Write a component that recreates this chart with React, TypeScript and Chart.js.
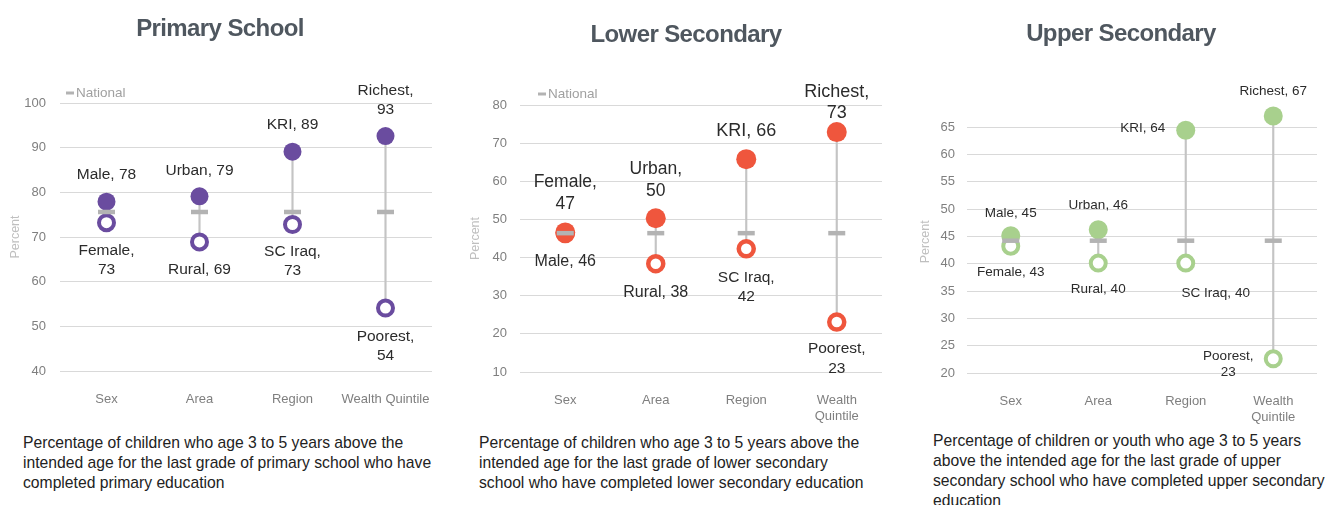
import React, { useEffect, useRef } from 'react';
import { Chart, registerables } from 'chart.js';

Chart.register(...registerables);

const FONT = '"Liberation Sans", Arial, sans-serif';

// ---------- DATA ----------
const primaryCategories: (string | string[])[] = ['Sex', 'Area', 'Region', 'Wealth Quintile'];
const secondaryCategories: (string | string[])[] = ['Sex', 'Area', 'Region', ['Wealth', 'Quintile']];

const primaryTicks = [40, 50, 60, 70, 80, 90, 100];
const primaryHighNames = ['Male', 'Urban', 'KRI', 'Richest'];
const primaryHighValues = [77.9, 79.1, 89.1, 92.6];
const primaryLowNames = ['Female', 'Rural', 'SC Iraq', 'Poorest'];
const primaryLowValues = [73.2, 68.9, 72.8, 54.1];
const primaryNational = [75.6, 75.6, 75.6, 75.6];

const lowerTicks = [10, 20, 30, 40, 50, 60, 70, 80];
const lowerHighNames = ['Female', 'Urban', 'KRI', 'Richest'];
const lowerHighValues = [46.6, 50.3, 65.8, 72.9];
const lowerLowNames = ['Male', 'Rural', 'SC Iraq', 'Poorest'];
const lowerLowValues = [46.3, 38.4, 42.3, 23.1];
const lowerNational = [46.4, 46.4, 46.4, 46.4];

const upperTicks = [20, 25, 30, 35, 40, 45, 50, 55, 60, 65];
const upperHighNames = ['Male', 'Urban', 'KRI', 'Richest'];
const upperHighValues = [45.1, 46.2, 64.4, 67.0];
const upperLowNames = ['Female', 'Rural', 'SC Iraq', 'Poorest'];
const upperLowValues = [43.2, 40.1, 40.1, 22.6];
const upperNational = [44.2, 44.2, 44.2, 44.2];

const primaryTitle = 'Primary School';
const lowerTitle = 'Lower Secondary';
const upperTitle = 'Upper Secondary';

const primaryCaption = [
  'Percentage of children who age 3 to 5 years above the',
  'intended age for the last grade of primary school who have',
  'completed primary education',
];
const lowerCaption = [
  'Percentage of children who age 3 to 5 years above the',
  'intended age for the last grade of lower secondary',
  'school who have completed lower secondary education',
];
const upperCaption = [
  'Percentage of children or youth who age 3 to 5 years',
  'above the intended age for the last grade of upper',
  'secondary school who have completed upper secondary',
  'education',
];

// ---------- LAYOUT / STYLE ----------
type Place = { dx?: number; dy: number; wrap?: boolean; lh?: number; size: number };

interface Panel {
  title: string;
  titleCenter: number;
  titleTop: number;
  categories: (string | string[])[];
  ticks: number[];
  yMax: number;
  highNames: string[];
  highValues: number[];
  lowNames: string[];
  lowValues: number[];
  national: number[];
  color: string;
  canvasLeft: number;
  canvasWidth: number;
  canvasHeight: number;
  chartTop: number;
  chartBottom: number;
  rightPad: number;
  tickPad: number;
  titlePad: number;
  filledR: number;
  hollowR: number;
  hollowBW: number;
  hollowOnTop: boolean;
  legend: { dx: number; dy: number } | null;
  highPlaces: Place[];
  lowPlaces: Place[];
  caption: string[];
  captionLeft: number;
  captionTop: number;
}

const panels: Panel[] = [
  {
    title: primaryTitle, titleCenter: 220, titleTop: 13,
    categories: primaryCategories, ticks: primaryTicks, yMax: 100,
    highNames: primaryHighNames, highValues: primaryHighValues,
    lowNames: primaryLowNames, lowValues: primaryLowValues, national: primaryNational,
    color: '#6a4c9f',
    canvasLeft: 0, canvasWidth: 440, canvasHeight: 430,
    chartTop: 103, chartBottom: 371, rightPad: 8,
    tickPad: 14, titlePad: 8,
    filledR: 9, hollowR: 7.5, hollowBW: 4, hollowOnTop: true,
    legend: { dx: 6, dy: -10 },
    highPlaces: [
      { dy: -27, size: 15.5 },
      { dy: -26, size: 15.5 },
      { dy: -27, size: 15.5 },
      { dy: -45, wrap: true, lh: 19, size: 15.5 },
    ],
    lowPlaces: [
      { dy: 28, wrap: true, lh: 19, size: 15.5 },
      { dy: 28, size: 15.5 },
      { dy: 27, wrap: true, lh: 19, size: 15.5 },
      { dy: 29, wrap: true, lh: 18.5, size: 15.5 },
    ],
    caption: primaryCaption, captionLeft: 23, captionTop: 433,
  },
  {
    title: lowerTitle, titleCenter: 686, titleTop: 19,
    categories: secondaryCategories, ticks: lowerTicks, yMax: 80,
    highNames: lowerHighNames, highValues: lowerHighValues,
    lowNames: lowerLowNames, lowValues: lowerLowValues, national: lowerNational,
    color: '#ef563d',
    canvasLeft: 460, canvasWidth: 430, canvasHeight: 430,
    chartTop: 105, chartBottom: 372, rightPad: 8,
    tickPad: 13, titlePad: 8,
    filledR: 10, hollowR: 7.5, hollowBW: 4.5, hollowOnTop: false,
    legend: { dx: 18, dy: -11 },
    highPlaces: [
      { dy: -50, wrap: true, lh: 21.5, size: 17.5 },
      { dy: -49, wrap: true, lh: 22, size: 17.5 },
      { dy: -28, size: 18 },
      { dy: -40, wrap: true, lh: 21, size: 18 },
    ],
    lowPlaces: [
      { dy: 28, size: 16 },
      { dy: 29, size: 16 },
      { dy: 29, wrap: true, lh: 19, size: 15.5 },
      { dy: 27, wrap: true, lh: 20, size: 15.5 },
    ],
    caption: lowerCaption, captionLeft: 479, captionTop: 433,
  },
  {
    title: upperTitle, titleCenter: 1121, titleTop: 18,
    categories: secondaryCategories, ticks: upperTicks, yMax: 68,
    highNames: upperHighNames, highValues: upperHighValues,
    lowNames: upperLowNames, lowValues: upperLowValues, national: upperNational,
    color: '#a8d08d',
    canvasLeft: 907, canvasWidth: 418, canvasHeight: 430,
    chartTop: 110.6, chartBottom: 373, rightPad: 8,
    tickPad: 12, titlePad: 11,
    filledR: 9.5, hollowR: 7.5, hollowBW: 4, hollowOnTop: true,
    legend: null,
    highPlaces: [
      { dy: -23, size: 13.5 },
      { dy: -24, size: 13.5 },
      { dx: -43, dy: -2, size: 13.5 },
      { dy: -25, size: 13.5 },
    ],
    lowPlaces: [
      { dy: 26, size: 13.5 },
      { dy: 26, size: 13.5 },
      { dx: 30, dy: 30, size: 13.5 },
      { dx: -45, dy: -3, wrap: true, lh: 16, size: 13.5 },
    ],
    caption: upperCaption, captionLeft: 933, captionTop: 431,
  },
];

function PanelChart({ p }: { p: Panel }) {
  const ref = useRef<HTMLCanvasElement | null>(null);

  useEffect(() => {
    if (!ref.current) return;
    const ranges = p.highValues.map((h, i) => [Math.min(h, p.lowValues[i]), Math.max(h, p.lowValues[i])]);

    const labelPlugin = {
      id: 'pointLabels',
      afterDatasetsDraw(chart: any) {
        const ctx = chart.ctx;
        ctx.save();
        ctx.fillStyle = '#2b2b2b';
        ctx.textAlign = 'center';
        ctx.textBaseline = 'middle';
        const groups = [
          { idx: 2, names: p.highNames, values: p.highValues, places: p.highPlaces },
          { idx: 1, names: p.lowNames, values: p.lowValues, places: p.lowPlaces },
        ];
        groups.forEach((g) => {
          const meta = chart.getDatasetMeta(g.idx);
          meta.data.forEach((pt: any, i: number) => {
            const pl = g.places[i];
            const n = Math.round(g.values[i]);
            const lines = pl.wrap ? [g.names[i] + ',', String(n)] : [g.names[i] + ', ' + n];
            ctx.font = `${pl.size}px ${FONT}`;
            lines.forEach((ln, k) => {
              ctx.fillText(ln, pt.x + (pl.dx || 0), pt.y + pl.dy + k * (pl.lh || 0));
            });
          });
        });
        ctx.restore();
      },
    };

    const legendPlugin = {
      id: 'nationalLegend',
      afterDraw(chart: any) {
        if (!p.legend) return;
        const ctx = chart.ctx;
        const x = chart.chartArea.left + p.legend.dx;
        const y = chart.chartArea.top + p.legend.dy;
        ctx.save();
        ctx.fillStyle = '#b3b3b3';
        ctx.fillRect(x, y - 1.5, 8, 3);
        ctx.fillStyle = '#a0a0a0';
        ctx.font = `13.5px ${FONT}`;
        ctx.textAlign = 'left';
        ctx.textBaseline = 'middle';
        ctx.fillText('National', x + 10, y + 0.5);
        ctx.restore();
      },
    };

    const chart = new Chart(ref.current, {
      type: 'bar',
      data: {
        labels: p.categories as any,
        datasets: [
          {
            type: 'line',
            label: 'National',
            data: p.national,
            showLine: false,
            pointStyle: 'line',
            pointRadius: 8.5,
            pointBorderWidth: 4.5,
            pointBorderColor: '#b3b3b3',
            pointBackgroundColor: '#b3b3b3',
            order: 0,
            clip: false,
          } as any,
          {
            type: 'line',
            label: 'Low',
            data: p.lowValues,
            showLine: false,
            pointRadius: p.hollowR,
            pointBorderWidth: p.hollowBW,
            pointBorderColor: p.color,
            pointBackgroundColor: '#ffffff',
            order: p.hollowOnTop ? 1 : 2,
            clip: false,
          } as any,
          {
            type: 'line',
            label: 'High',
            data: p.highValues,
            showLine: false,
            pointRadius: p.filledR,
            pointBorderWidth: 0,
            pointBorderColor: p.color,
            pointBackgroundColor: p.color,
            order: p.hollowOnTop ? 2 : 1,
            clip: false,
          } as any,
          {
            type: 'bar',
            label: 'Range',
            data: ranges as any,
            backgroundColor: '#c4c4c4',
            borderWidth: 0,
            barThickness: 1.5,
            order: 3,
            clip: false,
          } as any,
        ],
      },
      options: {
        responsive: false,
        animation: false,
        events: [],
        layout: {
          autoPadding: false,
          padding: {
            left: 0,
            top: p.chartTop,
            right: p.rightPad,
            bottom: 0,
          },
        },
        plugins: {
          legend: { display: false },
          tooltip: { enabled: false },
          title: { display: false },
        },
        scales: {
          x: {
            grid: { display: false, drawTicks: false },
            border: { display: false },
            ticks: {
              color: '#7f7f7f',
              font: { size: 13, family: FONT, lineHeight: 1.25 },
              padding: 20,
              maxRotation: 0,
              minRotation: 0,
              autoSkip: false,
            },
            afterFit: (s: any) => {
              s.height = p.canvasHeight - p.chartBottom;
              s.paddingLeft = 0;
              s.paddingRight = 0;
            },
          },
          y: {
            min: p.ticks[0],
            max: p.yMax,
            afterBuildTicks: (s: any) => {
              s.ticks = p.ticks.map((v) => ({ value: v }));
            },
            afterFit: (s: any) => {
              s.width = 60;
              s.paddingTop = 0;
              s.paddingBottom = 0;
            },
            grid: { color: '#d9d9d9', lineWidth: 1, drawTicks: false },
            border: { display: false },
            ticks: {
              color: '#7f7f7f',
              font: { size: 13, family: FONT },
              padding: p.tickPad,
            },
            title: {
              display: true,
              text: 'Percent',
              color: '#bfbfbf',
              font: { size: 12.5, family: FONT },
              padding: { top: p.titlePad, bottom: 0 },
            },
          },
        },
      },
      plugins: [labelPlugin, legendPlugin],
    } as any);

    return () => chart.destroy();
  }, [p]);

  return (
    <canvas
      ref={ref}
      width={p.canvasWidth}
      height={p.canvasHeight}
      style={{ position: 'absolute', left: p.canvasLeft, top: 0, width: p.canvasWidth, height: p.canvasHeight }}
    />
  );
}

export default function App() {
  Chart.defaults.font.family = FONT;
  return (
    <div
      style={{
        position: 'absolute',
        left: 0,
        top: 0,
        width: 1325,
        height: 505,
        overflow: 'hidden',
        background: '#ffffff',
        fontFamily: FONT,
      }}
    >
      {panels.map((p, i) => (
        <PanelChart key={'c' + i} p={p} />
      ))}
      {panels.map((p, i) => (
        <div
          key={'t' + i}
          style={{
            position: 'absolute',
            left: p.titleCenter - 200,
            width: 400,
            top: p.titleTop,
            lineHeight: '30px',
            fontSize: 24,
            fontWeight: 'bold',
            letterSpacing: '-0.6px',
            color: '#4f575f',
            textAlign: 'center',
            whiteSpace: 'nowrap',
          }}
        >
          {p.title}
        </div>
      ))}
      {panels.map((p, i) => (
        <div
          key={'cap' + i}
          style={{
            position: 'absolute',
            left: p.captionLeft,
            top: p.captionTop,
            fontSize: 15.7,
            lineHeight: '20px',
            color: '#222222',
          }}
        >
          {p.caption.map((ln, k) => (
            <div key={k} style={{ whiteSpace: 'nowrap' }}>
              {ln}
            </div>
          ))}
        </div>
      ))}
    </div>
  );
}
